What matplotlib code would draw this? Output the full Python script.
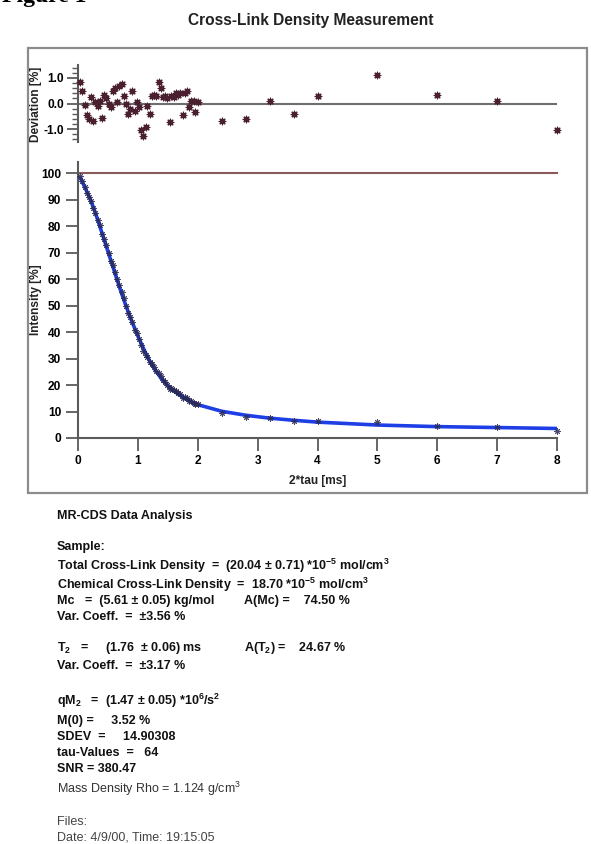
import matplotlib
matplotlib.use('Agg')
import matplotlib.pyplot as plt
from matplotlib.patches import Rectangle

plt.rcParams['font.family'] = ['Liberation Sans', 'DejaVu Sans']
plt.rcParams['mathtext.fontset'] = 'custom'
plt.rcParams['mathtext.rm'] = 'Liberation Sans'
plt.rcParams['mathtext.bf'] = 'Liberation Sans:bold'
plt.rcParams['mathtext.default'] = 'regular'

# ---------------- data ----------------
tau = [0.04, 0.07, 0.11, 0.15, 0.18, 0.22, 0.25, 0.29, 0.33, 0.36, 0.40, 0.44, 0.47, 0.51,
       0.55, 0.58, 0.62, 0.65, 0.69, 0.73, 0.76, 0.80, 0.84, 0.87, 0.91, 0.95, 0.98, 1.02,
       1.05, 1.09, 1.13, 1.16, 1.20, 1.24, 1.27, 1.31, 1.35, 1.38, 1.42, 1.45, 1.49, 1.53,
       1.56, 1.60, 1.64, 1.67, 1.71, 1.75, 1.78, 1.82, 1.85, 1.89, 1.93, 1.96, 2.00,
       2.4, 2.8, 3.2, 3.6, 4.0, 5.0, 6.0, 7.0, 8.0]

intensity = [99.1, 97.3, 95.0, 92.6, 90.9, 89.6, 86.8, 85.2, 82.3, 80.4, 77.0, 75.1, 72.8, 69.8,
             66.9, 65.4, 62.7, 60.1, 57.9, 55.3, 52.9, 50.0, 47.2, 45.6, 44.0, 41.0, 39.7, 37.4,
             35.0, 32.8, 31.2, 30.7, 28.6, 27.8, 26.8, 25.3, 24.7, 23.4, 22.0, 21.3, 20.2, 18.5,
             18.9, 18.1, 17.6, 17.1, 16.5, 15.1, 15.5, 15.1, 14.1, 13.8, 13.4, 12.7, 12.7,
             9.4, 8.0, 7.6, 6.3, 6.3, 6.0, 4.6, 4.05, 2.55]

fit = [98.2, 96.8, 95.0, 93.0, 91.5, 89.3, 87.5, 85.1, 82.4, 80.3, 77.5, 74.7, 72.6, 69.8,
       67.0, 64.9, 62.1, 60.0, 57.2, 54.5, 52.6, 50.0, 47.6, 45.8, 43.5, 41.3, 39.6, 37.5,
       36.0, 34.0, 32.1, 30.8, 29.0, 27.5, 26.4, 25.0, 23.8, 22.8, 21.7, 21.0, 20.0, 19.2,
       18.6, 17.8, 17.2, 16.7, 16.1, 15.5, 15.1, 14.6, 14.2, 13.7, 13.3, 13.0, 12.6,
       10.1, 8.6, 7.5, 6.7, 6.0, 4.9, 4.3, 3.95, 3.6]

deviation = [0.85, 0.50, -0.05, -0.45, -0.60, 0.25, -0.70, 0.05, -0.10, 0.10, -0.55, 0.35, 0.20, 0.00,
             -0.15, 0.50, 0.60, 0.05, 0.68, 0.75, 0.30, 0.00, -0.42, -0.20, 0.50, -0.30, 0.05, -0.15,
             -1.05, -1.25, -0.90, -0.10, -0.42, 0.30, 0.35, 0.30, 0.85, 0.60, 0.25, 0.30, 0.20, -0.72,
             0.30, 0.25, 0.40, 0.35, 0.42, -0.45, 0.40, 0.50, -0.15, 0.10, 0.10, -0.35, 0.05,
             -0.70, -0.62, 0.10, -0.42, 0.30, 1.12, 0.32, 0.10, -1.05]

x_ticks = [0, 1, 2, 3, 4, 5, 6, 7, 8]
int_ticks = [0, 10, 20, 30, 40, 50, 60, 70, 80, 90, 100]
dev_ticks = [-1.0, 0.0, 1.0]
dev_tick_labels = ['-1.0', '0.0', '1.0']

# ---------------- figure ----------------
W, H = 591, 844
fig = plt.figure(figsize=(W / 100, H / 100), dpi=100)


def fx(px):
    return px / W


def fy(py):
    return 1 - py / H


AX_L, AX_R = 78, 557
spine_col = '#5a5a5a'
tick_font = dict(fontsize=8.6, fontweight='bold')

# Frame around the chart
fig.patches.append(Rectangle((fx(28), fy(493)), fx(587) - fx(28), (493 - 48) / H,
                             transform=fig.transFigure, fill=False, ec='#8c8c8c', lw=1.6))

# "Figure 1" heading, cut off at the top of the page
fig.text(fx(2), fy(2), 'Figure 1', fontsize=17, fontweight='bold',
         family='Liberation Serif', ha='left', va='baseline', color='black')

fig.text(fx(311), fy(20), 'Cross-Link Density Measurement', fontsize=11.2,
         fontweight='bold', ha='center', va='center', color='#222222')

marker_style = (8, 2, 0)

# ---- deviation panel ----
axd = fig.add_axes([fx(AX_L), fy(142), fx(AX_R) - fx(AX_L), (142 - 65) / H])
axd.set_xlim(0, 8)
axd.set_ylim(-1.5, 1.5)
axd.axhline(0, color='#6e6e6e', lw=1.5, zorder=1)
axd.scatter(tau, deviation, marker=marker_style, s=22, color='#4a2030', lw=0.9, zorder=3,
            clip_on=False)
for s in ['top', 'right', 'bottom']:
    axd.spines[s].set_visible(False)
axd.spines['left'].set_color(spine_col)
axd.spines['left'].set_linewidth(1.5)
axd.set_xticks([])
axd.set_yticks(dev_ticks)
axd.set_yticklabels(dev_tick_labels, **tick_font)
axd.set_yticks([-1.4, -1.2, -0.8, -0.6, -0.4, -0.2, 0.2, 0.4, 0.6, 0.8, 1.2, 1.4], minor=True)
axd.tick_params(axis='y', which='major', direction='out', length=8, width=1.3, color=spine_col, pad=2)
axd.tick_params(axis='y', which='minor', direction='out', length=4, width=1.0, color=spine_col)
axd.patch.set_alpha(0)
fig.text(fx(36), fy(104), 'Deviation [%]', rotation=90, fontsize=8.6, fontweight='bold',
         ha='center', va='center', color='#222222')

# ---- intensity panel ----
axi = fig.add_axes([fx(AX_L), fy(438), fx(AX_R) - fx(AX_L), (438 - 162) / H])
axi.set_xlim(0, 8)
axi.set_ylim(0, 104.3)
axi.plot([0, 8], [100, 100], color='#8a5a5a', lw=1.5, zorder=1, clip_on=False)
axi.plot(tau, fit, color='#1e3ee6', lw=2.6, zorder=2, solid_capstyle='round')
axi.scatter(tau, intensity, marker=marker_style, s=16, color='#2a2a55', lw=0.7, zorder=3,
            alpha=0.85, clip_on=False)
for s in ['top', 'right']:
    axi.spines[s].set_visible(False)
for s in ['left', 'bottom']:
    axi.spines[s].set_color(spine_col)
    axi.spines[s].set_linewidth(1.5)
axi.set_xticks(x_ticks)
axi.set_xticklabels([str(v) for v in x_ticks], **tick_font)
axi.set_yticks(int_ticks)
axi.set_yticklabels([str(v) for v in int_ticks], **tick_font)
axi.tick_params(direction='out', length=9, width=1.3, color=spine_col, pad=3)
axi.patch.set_alpha(0)
fig.text(fx(318), fy(481), '2*tau [ms]', fontsize=8.6, fontweight='bold',
         ha='center', va='center', color='#222222')
fig.text(fx(36), fy(300), 'Intensity [%]', rotation=90, fontsize=8.6, fontweight='bold',
         ha='center', va='center', color='#222222')

# ---------------- text block ----------------
TX = fx(57)
fs = 9
col = '#111111'


def line(y, s, bold=True, x=TX, color=col, size=fs):
    fig.text(x, fy(y), s, fontsize=size, fontweight='bold' if bold else 'normal',
             ha='left', va='center', color=color)


line(516, 'MR-CDS Data Analysis')
line(547, 'Sample:')
line(566, r'Total Cross-Link Density  =  (20.04 ± 0.71) *10$^{-5}$ mol/cm$^{3}$')
line(585, r'Chemical Cross-Link Density  =  18.70 *10$^{-5}$ mol/cm$^{3}$')
line(601, 'Mc   =  (5.61 ± 0.05) kg/mol')
line(601, 'A(Mc) =    74.50 %', x=fx(244))
line(617, 'Var. Coeff.  =  ±3.56 %')
line(648, r'T$_{2}$   =     (1.76  ± 0.06) ms')
line(648, r'A(T$_{2}$) =    24.67 %', x=fx(244))
line(666, 'Var. Coeff.  =  ±3.17 %')
line(701, r'qM$_{2}$   =  (1.47 ± 0.05) *10$^{6}$/s$^{2}$')
line(721, 'M(0) =     3.52 %')
line(737, 'SDEV  =     14.90308')
line(753, 'tau-Values  =   64')
line(769, 'SNR = 380.47')
line(789, r'Mass Density Rho = 1.124 g/cm$^{3}$', bold=False, color='#333333')
line(822, 'Files:', bold=False, color='#444444')
line(838, 'Date: 4/9/00, Time: 19:15:05', bold=False, color='#444444')

fig.savefig('out.png', dpi=100, facecolor='white')
